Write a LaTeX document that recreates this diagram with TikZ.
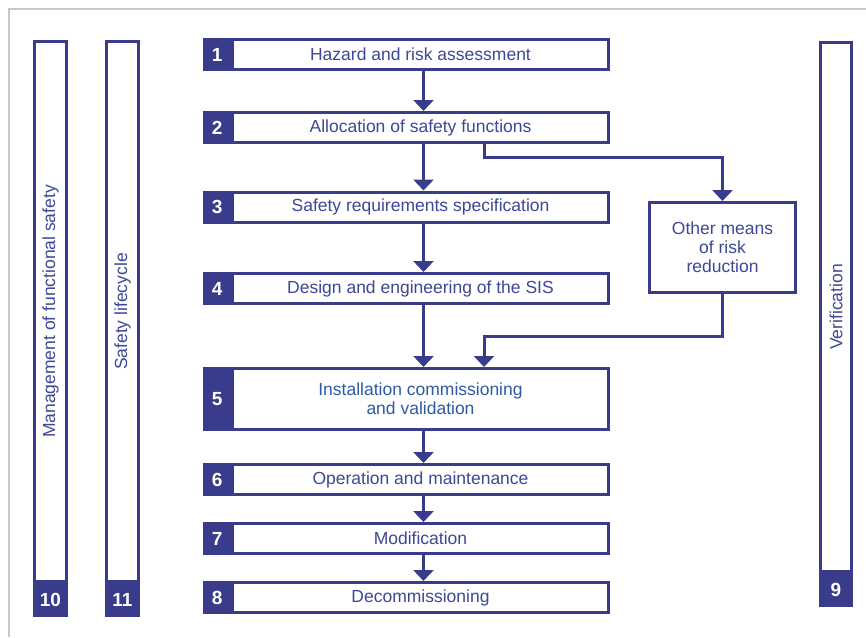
\documentclass[tikz,border=0pt]{standalone}
\usepackage{fontspec}
\setmainfont{Liberation Sans}
\usepackage{tikz}
\usetikzlibrary{arrows.meta,calc,positioning}
\definecolor{navy}{HTML}{393B8B}
\definecolor{inkblue}{HTML}{3D4896}
\definecolor{skyblue}{HTML}{2E5AA5}
\definecolor{frame}{HTML}{C8C8C8}
\tikzset{
  arr/.style={navy,line width=3pt,-{Triangle[width=20pt,length=11pt]}},
  every node/.style={font=\fontsize{17.5}{19}\selectfont,text=inkblue},
  stepbox/.style={draw=navy,line width=3pt,fill=white,minimum width=376pt,minimum height=30pt,inner sep=0pt,align=center},
  num/.style={fill=navy,text=white,font=\fontsize{19}{20}\selectfont\bfseries,minimum width=27.5pt,minimum height=33pt,inner sep=0pt},
  bar/.style={draw=navy,line width=3pt,fill=white,minimum width=32pt,inner sep=0pt},
  barnum/.style={fill=navy,text=white,font=\fontsize{19}{20}\selectfont\bfseries,minimum width=35pt,inner sep=0pt},
}
\begin{document}
\begin{tikzpicture}[x=1pt,y=-1pt]
  \useasboundingbox (0,0) rectangle (866,637);
  \draw[frame,line width=1.5pt] (9,637) -- (9,9) -- (866,9);
  % steps of the lifecycle
  \foreach \i/\y/\txt in {1/54.5/Hazard and risk assessment,
                          2/127.5/Allocation of safety functions,
                          3/207/Safety requirements specification,
                          4/288.5/Design and engineering of the SIS,
                          6/479.5/Operation and maintenance,
                          7/538.5/Modification,
                          8/597.5/Decommissioning}{
    \node[stepbox] (s\i) at (420.5,\y) {\txt};
    \node[num,anchor=east] (n\i) at (s\i.west) {\i};
  }
  \node[stepbox,minimum height=61pt,text=skyblue] (s5) at (420.5,399)
    {Installation commissioning\\and validation};
  \node[num,anchor=east,minimum height=64pt] (n5) at (s5.west) {5};
  \node[stepbox,minimum width=146pt,minimum height=90pt] (other) at (722.5,247.5)
    {Other means\\of risk\\reduction};
  % arrows
  \foreach \a/\b in {1/2,2/3,3/4,4/5,5/6,6/7,7/8}
    \draw[arr] ([xshift=3]s\a.south) -- ([xshift=3]s\b.north);
  \draw[arr] ([xshift=63.5]s2.south) |- ([yshift=44]other.north) -- (other.north);
  \draw[arr] (other.south) |- ([xshift=63.5,yshift=31]s5.north) -- ([xshift=63.5]s5.north);
  % side bars
  \node[bar,minimum height=540pt] (b10) at (50.5,311.5) {};
  \node[barnum,anchor=north,minimum height=33.5pt] (m10) at (b10.south) {10};
  \node[rotate=90] at (b10) {Management of functional safety};
  \node[bar,minimum height=540pt] (b11) at (122.5,311.5) {};
  \node[barnum,anchor=north,minimum height=33.5pt] (m11) at (b11.south) {11};
  \node[rotate=90] at (b11) {Safety lifecycle};
  \node[bar,minimum width=31pt,minimum height=529pt] (b9) at (836,307) {};
  \node[barnum,anchor=north,minimum width=34pt,minimum height=33.5pt] (m9) at (b9.south) {9};
  \node[rotate=90] at (b9) {Verification};
\end{tikzpicture}
\end{document}
